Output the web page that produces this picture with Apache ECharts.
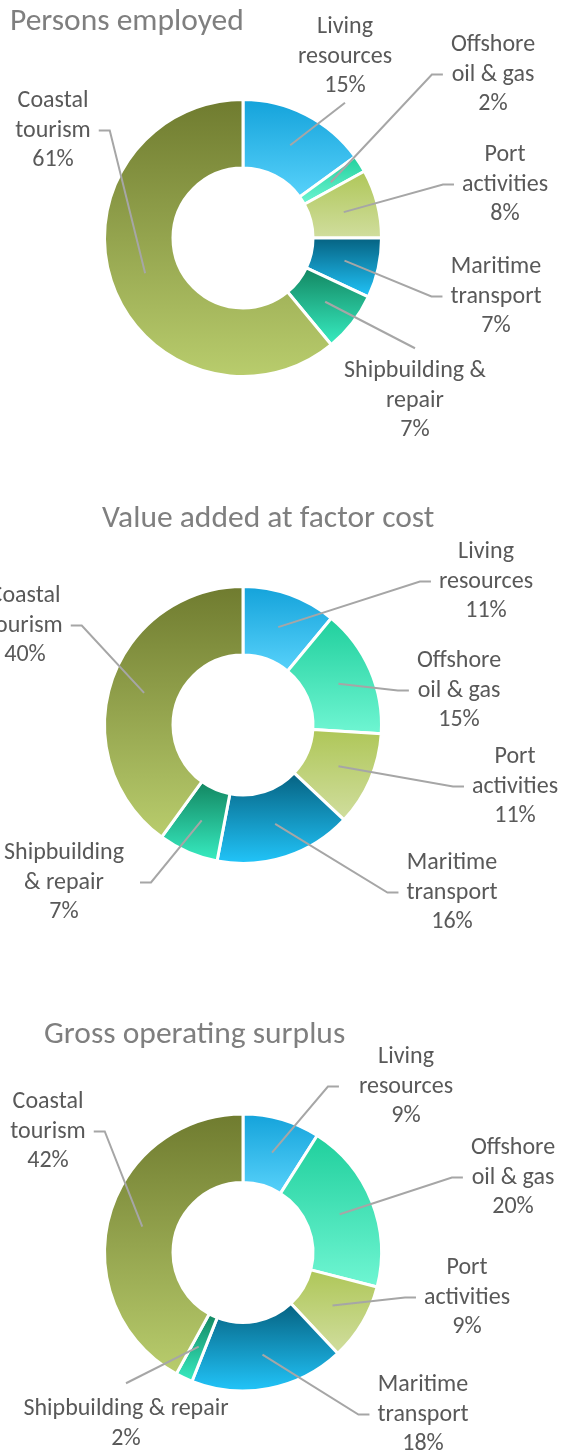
<!DOCTYPE html>
<html><head><meta charset="utf-8">
<script src="https://cdn.jsdelivr.net/npm/echarts@6/dist/echarts.min.js"></script>
<style>html,body{margin:0;padding:0;background:#fff}#c{width:562px;height:1454px}</style>
</head><body><div id="c"></div>
<script>
// ---------- data ----------
const categories = ['Living resources','Offshore oil & gas','Port activities','Maritime transport','Shipbuilding & repair','Coastal tourism'];
const chartTitles = ['Persons employed','Value added at factor cost','Gross operating surplus'];
const personsEmployed = [15, 2, 8, 7, 7, 61];
const valueAdded      = [11, 15, 11, 16, 7, 40];
const grossSurplus    = [9, 20, 9, 18, 2, 42];
// label wording (line breaks as laid out in each chart)
const labelText1 = ['Living\nresources','Offshore\noil & gas','Port\nactivities','Maritime\ntransport','Shipbuilding &\nrepair','Coastal\ntourism'];
const labelText2 = ['Living\nresources','Offshore\noil & gas','Port\nactivities','Maritime\ntransport','Shipbuilding\n& repair','Coastal\ntourism'];
const labelText3 = ['Living\nresources','Offshore\noil & gas','Port\nactivities','Maritime\ntransport','Shipbuilding & repair','Coastal\ntourism'];

// ---------- styles ----------
const gradTop    = ['#13a2da','#1fcf9c','#aec657','#05607f','#12845f','#6f7b2f'];
const gradBottom = ['#58d2fb','#70f6d3','#d1de9f','#22c6fb','#38eec3','#b9cd6d'];
const FONT = 'Carlito, Lato, "Open Sans", sans-serif';
const LINE_H = 29.5;
const MID_R = 104;
const RADIUS = [70, 138.5];
const layouts = [
  { center:[243,238], title:[10,6],
    labels:[[345,27,'bottom'],[493,45,'left'],[505,155,'left'],[496,267,'left'],[415,371,'top'],[53,101,'right']] },
  { center:[243,725], title:[102,503],
    labels:[[486,552,'left'],[459,661,'left'],[515,757,'left'],[452,863,'left'],[64,853,'right',16],[25,596,'right']] },
  { center:[243,1252.5], title:[44,1019],
    labels:[[406,1057,'left',20],[513,1148,'left'],[467,1268,'left'],[423,1385,'left'],[126,1409,'top',11],[48,1102,'right']] }
];

function makeLabelLayout(k){
  const L = layouts[k];
  return function(p){
    const cfg = L.labels[p.dataIndex];
    const lx = cfg[0], ly = cfg[1], side = cfg[2], gap = cfg[3] || 8;
    const w = p.labelRect.width, h = p.labelRect.height;
    const top = ly - LINE_H/2;
    const cx = L.center[0], cy = L.center[1];
    const p0 = p.labelLinePoints[0];
    const dx = p0[0]-cx, dy = p0[1]-cy, d = Math.hypot(dx,dy) || 1;
    const s = [cx + dx/d*MID_R, cy + dy/d*MID_R];
    let pts;
    if (side === 'left') { const ex = lx - w/2 - gap, ey = top + h/2; pts = [s,[ex-11,ey],[ex,ey]]; }
    else if (side === 'right') { const ex = lx + w/2 + gap, ey = top + h/2; pts = [s,[ex+11,ey],[ex,ey]]; }
    else if (side === 'bottom') { const e = [lx, top + h + 2]; pts = [s,e,e]; }
    else { const e = [lx, top - gap]; pts = [s,e,e]; }
    return { x: lx, y: top, align:'center', verticalAlign:'top', labelLinePoints: pts };
  };
}

function buildData(values, texts, filled){
  return values.map((v,i)=>({
    name: texts[i], value: v,
    itemStyle: filled ? { color: { type:'linear', x:0, y:0, x2:0, y2:1,
      colorStops:[{offset:0,color:gradTop[i]},{offset:1,color:gradBottom[i]}] } }
      : { color:'rgba(0,0,0,0)' }
  }));
}

const seriesValues = [personsEmployed, valueAdded, grossSurplus];
const seriesTexts = [labelText1, labelText2, labelText3];

const series = [];
seriesValues.forEach((vals,k)=>{
  // rings
  series.push({
    type:'pie', name: chartTitles[k], z:2,
    center: layouts[k].center, radius: RADIUS,
    startAngle:90, clockwise:true, silent:true,
    data: buildData(vals, seriesTexts[k], true),
    itemStyle:{ borderColor:'#ffffff', borderWidth:3 },
    label:{ show:false }, labelLine:{ show:false },
    emphasis:{ disabled:true }
  });
  // labels and leader lines drawn above the rings
  series.push({
    type:'pie', name: chartTitles[k] + ' labels', z:3,
    center: layouts[k].center, radius: RADIUS,
    startAngle:90, clockwise:true, silent:true, avoidLabelOverlap:false,
    data: buildData(vals, seriesTexts[k], false),
    itemStyle:{ borderWidth:0 },
    label:{ show:true, position:'outside', formatter:'{b}\n{c}%',
      fontFamily:FONT, fontSize:24, lineHeight:LINE_H, color:'#595959' },
    labelLine:{ show:true, smooth:false, length:10, length2:10,
      lineStyle:{ color:'#a6a6a6', width:2 } },
    labelLayout: makeLabelLayout(k),
    emphasis:{ disabled:true }
  });
});

const chart = echarts.init(document.getElementById('c'), null, {renderer:'canvas'});
chart.setOption({
  animation:false,
  backgroundColor:'#ffffff',
  title: chartTitles.map((t,k)=>({
    text:t, left:layouts[k].title[0], top:layouts[k].title[1], padding:0,
    textStyle:{ fontFamily:FONT, fontWeight:300, fontSize:31.5, color:'#7f7f7f' }
  })),
  series: series
});
</script></body></html>
